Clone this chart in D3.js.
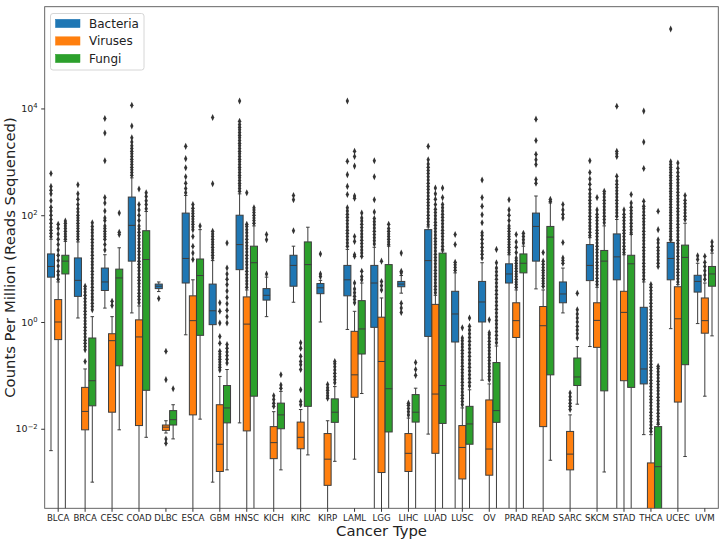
<!DOCTYPE html>
<html><head><meta charset="utf-8">
<script src="https://cdn.jsdelivr.net/npm/d3@7"></script>
<style>body{margin:0;background:#fff;} svg{font-family:"DejaVu Sans",sans-serif;}</style>
</head><body><svg id="c" width="720" height="542"></svg>
<script>
const categories = ["BLCA","BRCA","CESC","COAD","DLBC","ESCA","GBM","HNSC","KICH","KIRC","KIRP","LAML","LGG","LIHC","LUAD","LUSC","OV","PRAD","READ","SARC","SKCM","STAD","THCA","UCEC","UVM"];
const seriesNames = ["Bacteria","Viruses","Fungi"];
const seriesColors = ["#1f77b4","#ff7f0e","#2ca02c"];
const yTickExponents = [-2, 0, 2, 4];

// All values are log10(counts per million). null low whisker = reaches zero counts.
const bacteriaLow  = [-2.41,0.075,0.26,0.17,0.57,-0.24,-3.0,-1.89,0.1,0.37,0.0,-0.14,null,0.54,-2.1,null,-1.09,null,0.62,0.17,-0.46,null,-2.11,-0.125,-0.03];
const bacteriaQ1   = [0.84,0.48,0.59,1.14,0.625,0.73,-0.05,0.98,0.41,0.67,0.53,0.49,-0.1,0.66,-0.27,-0.375,0.0,0.73,1.14,0.36,0.775,0.79,-1.16,0.79,0.56];
const bacteriaMed  = [1.04,0.78,0.75,1.81,0.67,1.19,0.21,1.45,0.5,1.06,0.64,0.79,0.73,0.71,1.15,0.15,0.375,0.9,1.79,0.525,1.06,1.22,-0.88,1.19,0.76];
const bacteriaQ3   = [1.275,1.2,1.01,2.34,0.71,2.04,0.71,2.0,0.625,1.25,0.72,1.06,1.06,0.76,1.73,0.575,0.76,1.09,2.04,0.75,1.45,1.65,0.275,1.49,0.875];
const bacteriaHigh = [1.55,1.5,1.26,2.7,0.75,2.37,1.15,2.4,0.84,1.42,0.78,1.36,1.4,0.87,1.78,0.92,1.11,1.26,2.36,1.01,1.58,1.92,0.75,1.52,1.1];
const bacteriaOutliers = [
 [1.6,1.66,1.72,1.78,1.85,1.92,2.0,2.08,2.15,2.27,2.4,2.47,2.54,2.78],
 [1.55,1.6,1.65,1.7,1.75,1.8,1.85,1.9,1.95,2.0,2.06,2.12,2.2,2.3,2.4,2.57],
 [1.35,1.45,1.55,1.6,1.65,1.7,1.75,1.8,1.9,1.95,2.08,2.23,2.33,3.02,3.54,3.81],
 [2.75,2.8,2.85,2.9,2.95,3.0,3.05,3.1,3.15,3.2,3.25,3.3,3.37,3.45,3.67,4.06],
 [0.44],
 [2.42,2.5,2.6,2.72,2.89,3.06,3.29],
 [1.2,1.25,1.3,1.35,1.4,1.45,1.5,1.55,1.6,1.65,1.7,2.59,3.83],
 [2.45,2.5,2.55,2.6,2.65,2.7,2.75,2.8,2.85,2.9,2.95,3.0,3.05,3.1,3.15,3.2,3.25,3.3,3.35,3.4,3.45,3.5,3.55,3.6,3.65,3.7,3.76,4.14],
 [0.9,1.54,1.64],
 [1.71,2.29,2.37],
 [0.85,0.9,1.275],
 [1.42,1.48,1.54,1.6,1.66,1.72,1.78,1.84,1.9,1.96,2.02,2.08,2.14,2.39,2.54,2.76,3.01,4.14],
 [1.46,1.52,1.58,1.64,1.7,1.76,1.82,1.88,1.94,2.06,2.29,2.72,3.02],
 [0.18,0.26,0.35,0.92,0.95,1.29],
 [1.82,1.88,1.94,2.0,2.06,2.12,2.18,2.24,2.3,2.36,2.42,2.48,2.54,2.6,2.66,2.72,2.78,2.84,2.9,2.96,3.04,3.29],
 [0.97,1.02,1.07,1.12,1.45,1.64],
 [1.2,1.27,1.33,1.4,1.47,1.55,1.62,1.67,1.86,2.01,2.17,2.33,2.66],
 [1.3,1.35,1.4,1.45,1.5,1.55,1.6,1.65,1.7,1.75,1.8,1.9,2.0,2.1,2.29],
 [2.6,2.67,2.95,3.04,3.14,3.4,3.8],
 [1.1,1.15,1.2,1.49,1.95,2.02,2.1,2.2],
 [1.62,1.68,1.74,1.8,1.86,1.92,1.98,2.04,2.1,2.16,2.22,2.28,2.34,2.4,2.48,2.58,2.68,2.8,3.02],
 [1.98,2.04,2.1,2.16,2.22,2.28,2.34,2.4,2.46,2.52,2.58,2.64,2.73,3.1,3.15,3.2,4.04],
 [0.8,0.86,0.92,0.98,1.04,1.1,1.16,1.22,1.28,1.34,1.4,1.46,1.52,1.58,1.64,1.7,1.76,1.82,1.88,1.94,2.0,2.06,2.12,2.17,2.26,2.875,3.37,3.95],
 [1.55,1.6,1.65,1.7,1.75,1.8,1.85,1.9,1.95,2.0,2.05,2.1,2.15,2.2,2.25,2.3,2.35,2.4,2.45,2.5,2.55,2.6,2.65,2.7,2.75,2.8,2.85,2.9,2.95,3.0,5.49],
 [1.17,1.24]
];

const virusesLow  = [null,null,null,null,-2.08,null,null,null,null,null,null,-2.57,null,null,null,null,null,null,null,null,null,null,null,null,-1.39];
const virusesQ1   = [-0.33,-2.02,-1.69,-1.94,-2.03,-1.74,-2.8,-2.04,-2.56,-2.375,-3.06,-1.41,-2.82,-2.8,-2.46,-2.94,-2.87,-0.29,-1.96,-2.77,-0.475,-1.1,-4.2,-1.5,-0.21];
const virusesMed  = [0.0,-1.675,-0.35,-0.28,-1.97,0.025,-2.29,-0.04,-2.26,-2.16,-2.57,-0.99,-0.74,-2.46,-1.35,-2.35,-2.38,0.025,-0.07,-2.475,0.03,0.18,-3.8,0.06,0.025];
const virusesQ3   = [0.42,-1.225,-0.22,0.04,-1.93,0.49,-1.55,0.47,-1.96,-1.875,-2.09,-0.175,0.09,-2.09,0.33,-1.94,-1.46,0.36,0.29,-2.05,0.36,0.575,-2.64,0.66,0.45];
const virusesHigh = [0.75,-0.88,0.1,0.3,-1.85,0.79,-1.02,0.6,-1.68,-1.64,-1.85,0.2,0.45,-1.8,0.5,-1.61,-1.16,0.6,0.6,-1.74,0.65,1.26,-2.11,0.7,0.73];
const virusesOutliers = [
 [0.8,0.88,0.95,1.05,1.15,1.25,1.35,1.45,1.55,1.65,1.75,1.83],
 [-0.74,-0.52,-0.46,-0.4,-0.34,-0.28,-0.22,-0.16,-0.1,-0.04,0.02,0.08,0.14,0.2,0.26,0.32,0.38,0.44,0.5,0.56,0.62,0.67],
 [0.31,0.39],
 [0.36,0.42,0.48,0.54,0.6,0.66,0.72,0.78,0.84,0.9,0.96,1.02,1.08,1.14,1.2,1.26,1.32,1.38,1.44,1.5,1.56,1.62,1.68,1.74,1.8,1.9,2.0,2.1,2.2,2.49],
 [-2.19,-2.27,-1.08,-0.55],
 [1.17,1.29,1.42,1.6,1.73,1.78,1.83,1.88,1.93,1.98,2.03,2.08,2.13,2.2],
 [-0.9,-0.85,-0.8,-0.75,-0.7,-0.65,-0.6,-0.55,-0.4,-0.27,-0.02,0.2,0.36],
 [0.65,0.71,0.77,0.83,0.89,0.95,1.01,1.07,1.13,1.19,1.25,1.31,1.37,1.43,1.49,1.55,1.61,1.67,1.73,1.79,1.83,2.42],
 [-1.58,-1.52,-1.45,-1.38],
 [-1.55,-1.49,-1.27,-0.89,-0.8,-0.74,-0.64,-0.49,-0.39],
 [-1.43,-1.38,-1.33,-1.28,-1.23,-1.17],
 [0.36,0.42,0.48,0.55,0.62,0.73,1.23,1.26,1.51,1.6,2.32,2.36,2.92,3.1,3.2],
 [0.6,0.68,0.76,1.14],
 [-1.74,-1.68,-1.62,-1.56,-1.52],
 [0.55,0.61,0.67,0.73,0.79,0.85,0.91,0.97,1.03,1.09,1.15,1.21,1.27,1.33,1.39,1.45,1.51,1.57,1.63,1.69,1.75,1.81,1.87,1.93,1.99,2.05,2.11,2.2,2.3,2.4,2.51],
 [-1.55,-1.49,-1.43,-1.37,-1.31,-1.25,-1.19,-1.13,-1.07,-1.01,-0.95,-0.89,-0.83,-0.77,-0.71,-0.65,-0.59,-0.53,-0.47,-0.41,-0.35,-0.3,-0.11],
 [-1.08,-1.02,-0.96,-0.9,-0.84,-0.78,-0.72,-0.66,-0.6,-0.54,-0.48,-0.42,-0.36,-0.3,-0.24,-0.2,0.04],
 [0.65,0.7,0.75,0.8,0.85,0.9,0.95,1.0,1.05,1.1,1.15,1.2,1.3,1.4,1.5,1.64],
 [0.67,0.72,0.77,0.82,0.87,0.92,0.97,1.02,1.08,1.14,1.3],
 [-1.64,-1.58,-1.52,-1.46,-1.4,-1.33],
 [0.7,0.76,0.82,0.88,0.94,1.0,1.06,1.12,1.18,1.24,1.3,1.36,1.42,1.48,1.54,1.6,1.66,1.72,1.78,1.84,1.9,1.96,2.02,2.1,2.33],
 [1.3,1.36,1.42,1.48,1.54,1.6,1.66,1.72,1.78,1.84,1.9,1.96,2.02,2.1],
 [-2.05,-1.99,-1.93,-1.87,-1.81,-1.75,-1.69,-1.63,-1.57,-1.51,-1.45,-1.39,-1.33,-1.27,-1.21,-1.15,-1.09,-1.03,-0.97,-0.91,-0.85,-0.79,-0.73,-0.67,-0.61,-0.55,-0.49,-0.43,-0.37,-0.31,-0.25,-0.19,-0.13,-0.07,-0.01,0.05,0.11,0.17,0.23,0.29,0.35,0.41,0.47,0.53,0.59,0.65,0.7],
 [0.75,0.81,0.87,0.93,0.99,1.05,1.11,1.17,1.23,1.29,1.35,1.41,1.47,1.53,1.59,1.65,1.71,1.77,1.83,1.89,1.95,2.01,2.07,2.13,2.19,2.25,2.31,2.37,2.43,2.49,2.55,2.61,2.67,2.73,2.8,2.88,2.98],
 [0.8,0.88,0.96,1.04,1.12,1.23]
];

const fungiLow  = [null,-3.0,-2.02,-2.16,-2.19,-1.82,-2.77,null,-2.77,-2.49,-2.61,-1.34,null,null,null,null,null,null,-2.59,-1.54,-2.81,null,null,-2.52,-0.26];
const fungiQ1   = [0.9,-1.57,-0.82,-1.28,-1.93,-0.25,-1.89,-1.39,-2.0,-1.58,-1.88,-0.6,-2.06,-1.875,-1.9,-2.29,-1.88,0.92,-0.99,-1.19,-1.29,-1.225,-3.7,-0.8,0.67];
const fungiMed  = [1.14,-1.1,0.825,1.17,-1.83,0.87,-1.61,1.11,-1.74,1.075,-1.69,-0.13,-1.25,-1.69,-1.19,-1.91,-1.66,1.1,1.59,-1.03,1.14,1.09,-2.71,1.21,0.9];
const fungiQ3   = [1.25,-0.3,0.99,1.71,-1.66,1.18,-1.19,1.42,-1.52,1.5,-1.44,0.4,1.075,-1.36,1.29,-1.58,-0.76,1.275,1.79,-0.675,1.34,1.25,-1.96,1.44,1.04];
const fungiHigh = [1.51,0.1,1.39,2.07,-1.55,1.73,-0.89,1.8,-1.3,1.775,-1.21,0.73,1.42,-1.24,1.33,-1.27,-0.45,1.42,2.23,-0.46,1.8,1.64,-1.92,1.85,1.29];
const fungiOutliers = [
 [1.55,1.6,1.65,1.7,1.75,1.8,1.85,1.89],
 [0.23,0.29,0.35,0.41,0.47,0.53,0.59,0.65,0.71,0.77,0.83,0.89,0.95,1.01,1.07,1.13,1.19,1.25,1.31,1.37,1.43,1.49,1.55,1.61,1.67,1.73,1.79,1.86],
 [1.64,1.68,2.04],
 [2.12,2.2,2.27,2.35,2.42],
 [-1.25],
 [1.8],
 [-0.77,-0.7,-0.63,-0.56,-0.49,-0.42,-0.02,0.1,0.22,0.34,0.46,0.58,0.7,0.8,0.9,1.01,1.48],
 [1.85,1.9,1.95,2.0,2.05,2.1,2.14],
 [-1.24,-1.18,-0.99],
 [],
 [-1.14,-1.08,-1.02,-0.96,-0.9,-0.84,-0.78,-0.74],
 [0.79,0.85,0.95,1.23,1.29,1.35,1.41,1.47,1.53,1.59,1.65,1.71,1.77,1.83,1.89,1.95,2.04],
 [1.45,1.5,1.55,1.6,1.65,1.7,1.75,1.83],
 [-1.0,-0.89,-0.76],
 [1.36,1.42,1.48,1.54,1.6,1.66,1.72,1.78,1.84,1.9,1.96,2.02,2.08,2.14,2.2,2.33,2.51],
 [-1.2,-1.13,-1.06,-0.99,-0.92,-0.85,-0.78,-0.71,-0.64,-0.57,-0.5,-0.43,-0.36,-0.29,-0.22,-0.15,-0.08,0.075],
 [-0.39,-0.32,-0.25,-0.18,-0.11,-0.04,0.03,0.1,0.17,0.24,0.31,0.38,0.45,0.52,0.59,0.66,0.73,0.8,0.87,0.94,1.01,1.11,1.36],
 [1.48,1.54,1.6,1.66],
 [2.26,2.3],
 [-0.3,-0.22,-0.15,-0.08,0.0,0.075,0.15,0.23,0.54],
 [1.86,1.92,1.98,2.04,2.1,2.16,2.22,2.28,2.34,2.4,2.45],
 [1.67,1.73,1.79,1.85,1.91,1.97,2.03,2.09,2.15,2.23,2.39],
 [-1.89,-1.83,-1.77,-1.71,-1.65,-1.59,-1.53,-1.47,-1.41,-1.35,-1.29,-1.23,-1.17,-1.11,-1.05,-0.99,-0.93,-0.87,-0.83,1.04,1.1,1.16,1.22,1.28,1.34,1.4,1.48,1.54,1.73,2.075],
 [1.92,1.98,2.04,2.1,2.16,2.22,2.28,2.37],
 [1.35,1.42,1.5]
];

const seriesData = [
 {low: bacteriaLow, q1: bacteriaQ1, med: bacteriaMed, q3: bacteriaQ3, high: bacteriaHigh, out: bacteriaOutliers},
 {low: virusesLow, q1: virusesQ1, med: virusesMed, q3: virusesQ3, high: virusesHigh, out: virusesOutliers},
 {low: fungiLow, q1: fungiQ1, med: fungiMed, q3: fungiQ3, high: fungiHigh, out: fungiOutliers}
];

const svg = d3.select("#c");
const L = 44.7, R = 718.3, T = 6.7, B = 508.3;
const pow = v => Math.pow(10, v);

const x = d3.scaleBand().domain(categories).range([L, R]).padding(0);
const y = d3.scaleLog().domain([pow(-3.49), pow(5.906)]).range([B, T]);
const hue = d3.scaleBand().domain(seriesNames).range([0, x.bandwidth() * 0.8]);
const boxW = hue.bandwidth() * 0.98;
const lineC = "#3d3d3d";

svg.append("defs").append("clipPath").attr("id","clip")
  .append("rect").attr("x", L).attr("y", T).attr("width", R - L).attr("height", B - T);

const plot = svg.append("g").attr("clip-path","url(#clip)");
const yv = v => (v === null ? B + 5 : y(pow(v)));

seriesData.forEach((s, j) => {
  const g = plot.append("g");
  categories.forEach((c, i) => {
    const cx = x(c) + x.bandwidth() * 0.1 + hue(seriesNames[j]) + hue.bandwidth() / 2;
    g.append("line").attr("x1", cx).attr("x2", cx).attr("y1", yv(s.q1[i])).attr("y2", yv(s.low[i]))
      .attr("stroke", lineC).attr("stroke-width", 1);
    g.append("line").attr("x1", cx).attr("x2", cx).attr("y1", yv(s.q3[i])).attr("y2", yv(s.high[i]))
      .attr("stroke", lineC).attr("stroke-width", 1);
    [s.low[i], s.high[i]].forEach(v => {
      if (v === null) return;
      g.append("line").attr("x1", cx - boxW / 4).attr("x2", cx + boxW / 4)
        .attr("y1", yv(v)).attr("y2", yv(v)).attr("stroke", lineC).attr("stroke-width", 1);
    });
    g.append("rect").attr("x", cx - boxW / 2).attr("width", boxW)
      .attr("y", yv(s.q3[i])).attr("height", Math.max(0.5, yv(s.q1[i]) - yv(s.q3[i])))
      .attr("fill", seriesColors[j]).attr("stroke", lineC).attr("stroke-width", 1);
    g.append("line").attr("x1", cx - boxW / 2).attr("x2", cx + boxW / 2)
      .attr("y1", yv(s.med[i])).attr("y2", yv(s.med[i])).attr("stroke", lineC).attr("stroke-width", 1);
    g.selectAll(null).data(s.out[i]).join("path")
      .attr("d", d3.symbol(d3.symbolDiamond, 13))
      .attr("transform", v => `translate(${cx},${yv(v)}) scale(0.85,1.05)`)
      .attr("fill", "#333");
  });
});

svg.append("rect").attr("x", L).attr("y", T).attr("width", R - L).attr("height", B - T)
  .attr("fill", "none").attr("stroke", "#555").attr("stroke-width", 0.9);

const yAxis = svg.append("g").attr("transform", `translate(${L},0)`)
  .call(d3.axisLeft(y).tickValues(yTickExponents.map(pow)).tickSize(3.5).tickPadding(3.5).tickFormat(""));
yAxis.select(".domain").remove();
yAxis.selectAll(".tick line").attr("stroke", "#333");
yAxis.selectAll(".tick text").each(function(d) {
  const e = Math.round(Math.log10(d));
  const t = d3.select(this).attr("font-size", 9.5).attr("fill", "#222").attr("font-family", "DejaVu Sans");
  t.append("tspan").text("10");
  t.append("tspan").attr("dy", "-0.55em").attr("font-size", 6.8).text(e < 0 ? "\u2212" + (-e) : String(e));
});

const xAxis = svg.append("g").attr("transform", `translate(0,${B})`)
  .call(d3.axisBottom(x).tickSize(3.5).tickPadding(3));
xAxis.select(".domain").remove();
xAxis.selectAll(".tick line").attr("stroke", "#333");
xAxis.selectAll(".tick text").attr("font-size", 8.6).attr("fill", "#222").attr("font-family", "DejaVu Sans");

svg.append("text").attr("x", (L + R) / 2).attr("y", 536).attr("text-anchor", "middle")
  .attr("font-size", 14.8).attr("fill", "#222").text("Cancer Type");
svg.append("text").attr("transform", `translate(15,${(T + B) / 2}) rotate(-90)`).attr("text-anchor", "middle")
  .attr("font-size", 14.8).attr("fill", "#222").text("Counts Per Million (Reads Sequenced)");

const lg = svg.append("g");
lg.append("rect").attr("x", 50.5).attr("y", 13.5).attr("width", 93.5).attr("height", 56.5).attr("rx", 2.5)
  .attr("fill", "#fff").attr("fill-opacity", 0.8).attr("stroke", "#ccc").attr("stroke-width", 0.8);
seriesNames.forEach((n, j) => {
  const yy = 19.3 + j * 17.5;
  lg.append("rect").attr("x", 55.5).attr("y", yy).attr("width", 24.5).attr("height", 8.3)
    .attr("fill", seriesColors[j]).attr("stroke", seriesColors[j]).attr("stroke-width", 0.5);
  lg.append("text").attr("x", 89).attr("y", yy + 8.3).attr("font-size", 12).attr("fill", "#222").text(n);
});
</script></body></html>
